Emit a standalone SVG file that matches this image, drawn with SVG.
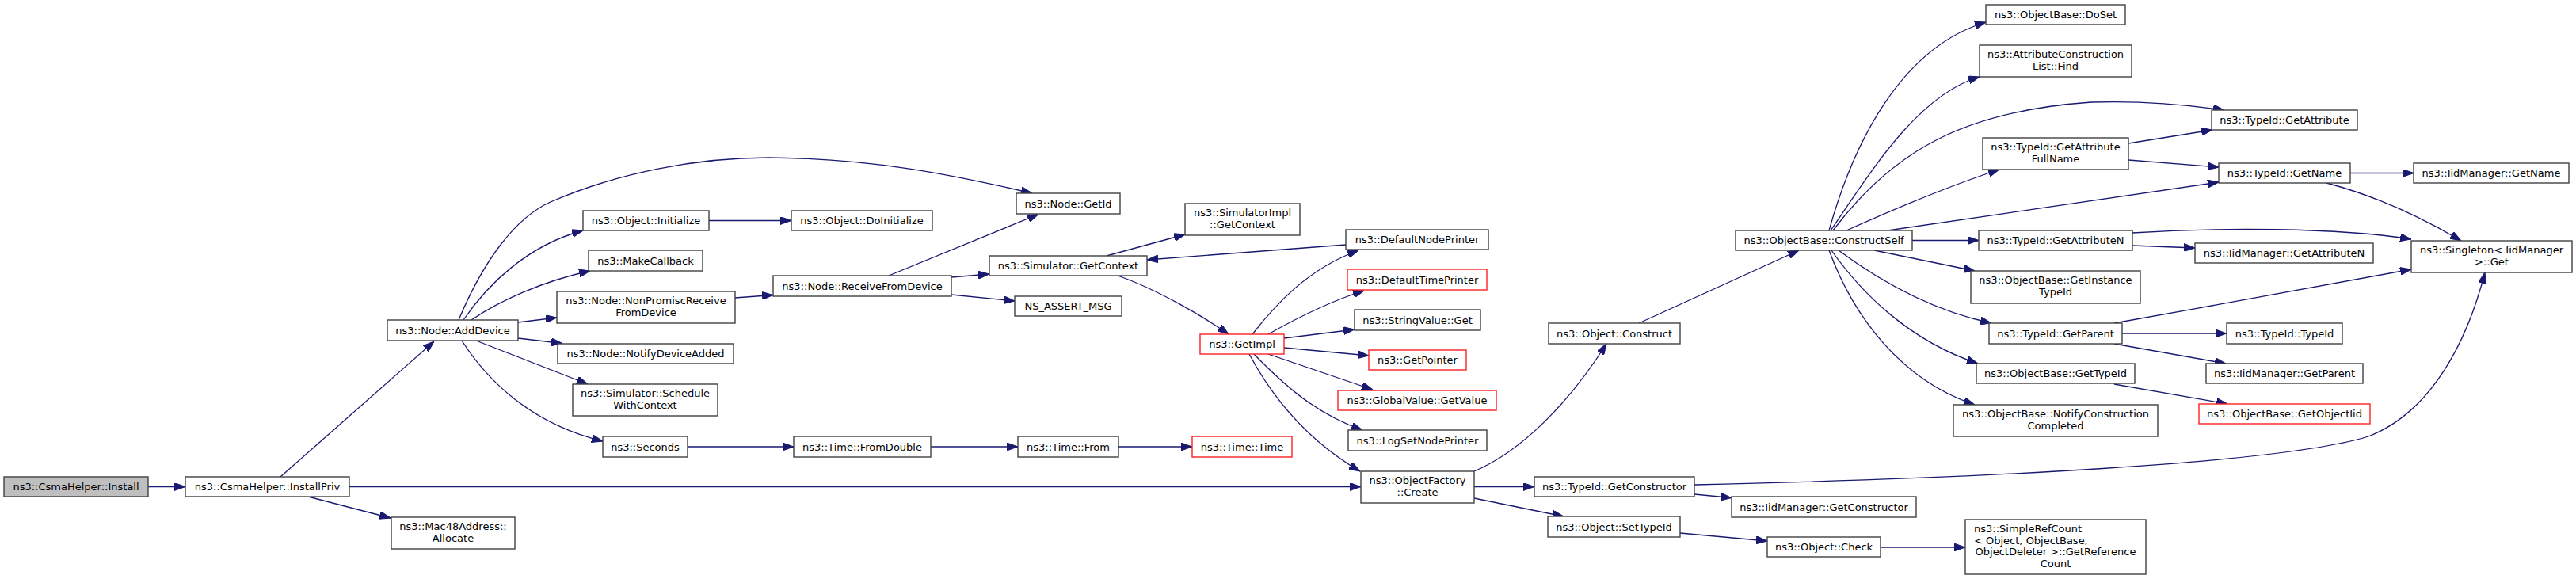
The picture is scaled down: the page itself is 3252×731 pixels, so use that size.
<svg xmlns="http://www.w3.org/2000/svg" width="3252" height="731" viewBox="0 0 3252 731">
<defs>
<marker id="ah" markerUnits="userSpaceOnUse" markerWidth="14" markerHeight="10" refX="14" refY="5" orient="auto">
<path d="M0,0 L14,5 L0,10 z" fill="#191970" stroke="#191970" stroke-width="1"/>
</marker>
</defs>
<style>
.n rect{fill:#ffffff;stroke:#404040;stroke-width:1.4}
.n.r rect{stroke:#ff2020}
.n.g rect{fill:#bfbfbf}
.n text{font-family:"DejaVu Sans",sans-serif;font-size:13px;fill:#000000;text-anchor:middle}
#edges path{fill:none;stroke:#191970;stroke-width:1.3;marker-end:url(#ah)}
</style>
<rect width="3252" height="731" fill="#ffffff"/>
<g id="edges">
<path d="M187,614.5 L234,614.5"/>
<path d="M354,602 L548,431"/>
<path d="M441,614.5 L1718,614.5"/>
<path d="M389,627 L493,654"/>
<path d="M579,404 C610,330 650,275 695,255 C780,218 880,199 970,199 C1100,200 1200,220 1303,244"/>
<path d="M585,404 C615,360 665,310 736,291"/>
<path d="M595,404 C630,380 685,355 745,342"/>
<path d="M654,407 L703,401"/>
<path d="M654,427 L710,433.5"/>
<path d="M601,430 L742,485"/>
<path d="M583,430 C615,480 670,535 761,557"/>
<path d="M895,278.5 L999,278.5"/>
<path d="M928,376 L976,372.5"/>
<path d="M1122,348 L1311,270.5"/>
<path d="M1201,350 L1249,346"/>
<path d="M1201,372 L1281,380"/>
<path d="M868,564 L1002,564"/>
<path d="M1175,564 L1285,564"/>
<path d="M1412,564 L1505,564"/>
<path d="M1397,323 L1496,296"/>
<path d="M1411,348 C1460,365 1520,400 1551,422"/>
<path d="M1699,309 L1448,328"/>
<path d="M1581,422 C1610,385 1650,340 1715,316"/>
<path d="M1601,422 C1640,400 1680,380 1722,367"/>
<path d="M1621,427 L1710,416"/>
<path d="M1621,439 L1728,449"/>
<path d="M1601,447 L1733,492"/>
<path d="M1583,447 C1620,485 1660,522 1720,543"/>
<path d="M1577,447 C1600,490 1640,550 1717,595"/>
<path d="M1861,595 C1920,570 1980,510 2028,434"/>
<path d="M1861,614.5 L1937,614.5"/>
<path d="M1861,629 L1974,652"/>
<path d="M2069,408 L2271,316"/>
<path d="M2139,612 C2500,604 2880,585 2990,551 C3070,520 3115,430 3137,344"/>
<path d="M2139,624 L2186,628.5"/>
<path d="M2121,673 L2231,683"/>
<path d="M2374,691 L2481,691"/>
<path d="M2309,291 C2340,180 2400,60 2507,28"/>
<path d="M2311,291 C2360,220 2420,120 2499,97"/>
<path d="M2314,291 C2390,190 2480,140 2640,129 C2700,127 2760,132 2808,139"/>
<path d="M2331,291 C2400,260 2460,235 2524,214"/>
<path d="M2383,291 L2801,230"/>
<path d="M2414,303.5 L2498,303.5"/>
<path d="M2366,316 L2493,342"/>
<path d="M2321,316 C2360,345 2430,390 2514,408"/>
<path d="M2312,316 C2350,370 2410,430 2497,459"/>
<path d="M2309,316 C2340,400 2400,480 2493,511"/>
<path d="M2692,294 C2800,287 2950,287 3044,302"/>
<path d="M2687,181 L2793,164"/>
<path d="M2687,202 L2801,211"/>
<path d="M2967,218.5 L3047,218.5"/>
<path d="M2937,231 C2990,245 3050,270 3107,304"/>
<path d="M2669,408 C2800,385 2950,357 3044,340"/>
<path d="M2679,421 L2811,421"/>
<path d="M2669,434 L2810,459"/>
<path d="M2669,485 L2812,510"/>
<path d="M2692,310 L2771,313"/>
</g>
<g id="n_install" class="n g"><rect x="5" y="602" width="182" height="25"/><text x="96" y="619">ns3::CsmaHelper::Install</text></g>
<g id="n_installpriv" class="n"><rect x="234" y="602" width="207" height="25"/><text x="337.5" y="619">ns3::CsmaHelper::InstallPriv</text></g>
<g id="n_adddevice" class="n"><rect x="489" y="404" width="165" height="26"/><text x="571.5" y="421.5">ns3::Node::AddDevice</text></g>
<g id="n_mac48" class="n"><rect x="494" y="653" width="156" height="40"/><text x="572" y="669">ns3::Mac48Address::</text><text x="572" y="684">Allocate</text></g>
<g id="n_objinit" class="n"><rect x="736" y="266" width="159" height="25"/><text x="815.5" y="283">ns3::Object::Initialize</text></g>
<g id="n_makecb" class="n"><rect x="743" y="316" width="144" height="26"/><text x="815" y="333.5">ns3::MakeCallback</text></g>
<g id="n_nonpromisc" class="n"><rect x="703" y="368" width="225" height="40"/><text x="815.5" y="384">ns3::Node::NonPromiscReceive</text><text x="815.5" y="399">FromDevice</text></g>
<g id="n_notify" class="n"><rect x="704" y="434" width="222" height="25"/><text x="815" y="451">ns3::Node::NotifyDeviceAdded</text></g>
<g id="n_schedule" class="n"><rect x="723" y="485" width="183" height="40"/><text x="814.5" y="501">ns3::Simulator::Schedule</text><text x="814.5" y="516">WithContext</text></g>
<g id="n_seconds" class="n"><rect x="761" y="551" width="107" height="26"/><text x="814.5" y="568.5">ns3::Seconds</text></g>
<g id="n_doinit" class="n"><rect x="999" y="266" width="178" height="25"/><text x="1088" y="283">ns3::Object::DoInitialize</text></g>
<g id="n_recv" class="n"><rect x="976" y="348" width="225" height="26"/><text x="1088.5" y="365.5">ns3::Node::ReceiveFromDevice</text></g>
<g id="n_fromdouble" class="n"><rect x="1002" y="551" width="173" height="26"/><text x="1088.5" y="568.5">ns3::Time::FromDouble</text></g>
<g id="n_getid" class="n"><rect x="1283" y="244" width="131" height="26"/><text x="1348.5" y="261.5">ns3::Node::GetId</text></g>
<g id="n_simimpl" class="n"><rect x="1496" y="257" width="145" height="40"/><text x="1568.5" y="273">ns3::SimulatorImpl</text><text x="1568.5" y="288">::GetContext</text></g>
<g id="n_simctx" class="n"><rect x="1249" y="323" width="199" height="25"/><text x="1348.5" y="340">ns3::Simulator::GetContext</text></g>
<g id="n_assert" class="n"><rect x="1281" y="374" width="135" height="25"/><text x="1348.5" y="391">NS_ASSERT_MSG</text></g>
<g id="n_getimpl" class="n r"><rect x="1515" y="422" width="106" height="25"/><text x="1568" y="439">ns3::GetImpl</text></g>
<g id="n_timefrom" class="n"><rect x="1285" y="551" width="127" height="26"/><text x="1348.5" y="568.5">ns3::Time::From</text></g>
<g id="n_timetime" class="n r"><rect x="1505" y="551" width="126" height="26"/><text x="1568" y="568.5">ns3::Time::Time</text></g>
<g id="n_defnode" class="n"><rect x="1699" y="290" width="180" height="25"/><text x="1789" y="307">ns3::DefaultNodePrinter</text></g>
<g id="n_deftime" class="n r"><rect x="1701" y="340" width="176" height="26"/><text x="1789" y="357.5">ns3::DefaultTimePrinter</text></g>
<g id="n_strget" class="n"><rect x="1710" y="391" width="159" height="26"/><text x="1789.5" y="408.5">ns3::StringValue::Get</text></g>
<g id="n_getptr" class="n r"><rect x="1728" y="442" width="123" height="25"/><text x="1789.5" y="459">ns3::GetPointer</text></g>
<g id="n_globval" class="n r"><rect x="1689" y="493" width="200" height="25"/><text x="1789" y="510">ns3::GlobalValue::GetValue</text></g>
<g id="n_lognode" class="n"><rect x="1702" y="543" width="175" height="26"/><text x="1789.5" y="560.5">ns3::LogSetNodePrinter</text></g>
<g id="n_ofcreate" class="n"><rect x="1718" y="595" width="143" height="40"/><text x="1789.5" y="611">ns3::ObjectFactory</text><text x="1789.5" y="626">::Create</text></g>
<g id="n_construct" class="n"><rect x="1955" y="408" width="166" height="26"/><text x="2038" y="425.5">ns3::Object::Construct</text></g>
<g id="n_getctor" class="n"><rect x="1937" y="602" width="202" height="25"/><text x="2038" y="619">ns3::TypeId::GetConstructor</text></g>
<g id="n_settid" class="n"><rect x="1954" y="652" width="167" height="26"/><text x="2037.5" y="669.5">ns3::Object::SetTypeId</text></g>
<g id="n_iidctor" class="n"><rect x="2186" y="627" width="233" height="26"/><text x="2302.5" y="644.5">ns3::IidManager::GetConstructor</text></g>
<g id="n_check" class="n"><rect x="2231" y="678" width="143" height="25"/><text x="2302.5" y="695">ns3::Object::Check</text></g>
<g id="n_refcount" class="n"><rect x="2481" y="656" width="228" height="69"/><text x="2492" y="672" style="text-anchor:start">ns3::SimpleRefCount</text><text x="2492" y="687" style="text-anchor:start">&lt; Object, ObjectBase,</text><text x="2595" y="701">ObjectDeleter &gt;::GetReference</text><text x="2595" y="716">Count</text></g>
<g id="n_constructself" class="n"><rect x="2191" y="291" width="223" height="25"/><text x="2302.5" y="308">ns3::ObjectBase::ConstructSelf</text></g>
<g id="n_doset" class="n"><rect x="2507" y="6" width="176" height="25"/><text x="2595" y="23">ns3::ObjectBase::DoSet</text></g>
<g id="n_acfind" class="n"><rect x="2499" y="57" width="192" height="40"/><text x="2595" y="73">ns3::AttributeConstruction</text><text x="2595" y="88">List::Find</text></g>
<g id="n_attrfull" class="n"><rect x="2503" y="174" width="184" height="40"/><text x="2595" y="190">ns3::TypeId::GetAttribute</text><text x="2595" y="205">FullName</text></g>
<g id="n_attrn" class="n"><rect x="2498" y="291" width="194" height="25"/><text x="2595" y="308">ns3::TypeId::GetAttributeN</text></g>
<g id="n_insttid" class="n"><rect x="2488" y="342" width="214" height="41"/><text x="2595" y="358">ns3::ObjectBase::GetInstance</text><text x="2595" y="373">TypeId</text></g>
<g id="n_getparent" class="n"><rect x="2511" y="408" width="168" height="26"/><text x="2595" y="425.5">ns3::TypeId::GetParent</text></g>
<g id="n_gettid" class="n"><rect x="2495" y="459" width="200" height="25"/><text x="2595" y="476">ns3::ObjectBase::GetTypeId</text></g>
<g id="n_notifycc" class="n"><rect x="2466" y="511" width="258" height="40"/><text x="2595" y="527">ns3::ObjectBase::NotifyConstruction</text><text x="2595" y="542">Completed</text></g>
<g id="n_getattr" class="n"><rect x="2792" y="139" width="184" height="25"/><text x="2884" y="156">ns3::TypeId::GetAttribute</text></g>
<g id="n_getname" class="n"><rect x="2801" y="206" width="166" height="25"/><text x="2884" y="223">ns3::TypeId::GetName</text></g>
<g id="n_iidname" class="n"><rect x="3047" y="206" width="196" height="25"/><text x="3145" y="223">ns3::IidManager::GetName</text></g>
<g id="n_iidattrn" class="n"><rect x="2771" y="307" width="225" height="25"/><text x="2883.5" y="324">ns3::IidManager::GetAttributeN</text></g>
<g id="n_singleton" class="n"><rect x="3044" y="304" width="203" height="40"/><text x="3145.5" y="320">ns3::Singleton&lt; IidManager</text><text x="3145.5" y="335">&gt;::Get</text></g>
<g id="n_typeid" class="n"><rect x="2811" y="408" width="146" height="26"/><text x="2884" y="425.5">ns3::TypeId::TypeId</text></g>
<g id="n_iidparent" class="n"><rect x="2785" y="459" width="198" height="25"/><text x="2884" y="476">ns3::IidManager::GetParent</text></g>
<g id="n_objiid" class="n r"><rect x="2776" y="510" width="216" height="25"/><text x="2884" y="527">ns3::ObjectBase::GetObjectIid</text></g>
</svg>
